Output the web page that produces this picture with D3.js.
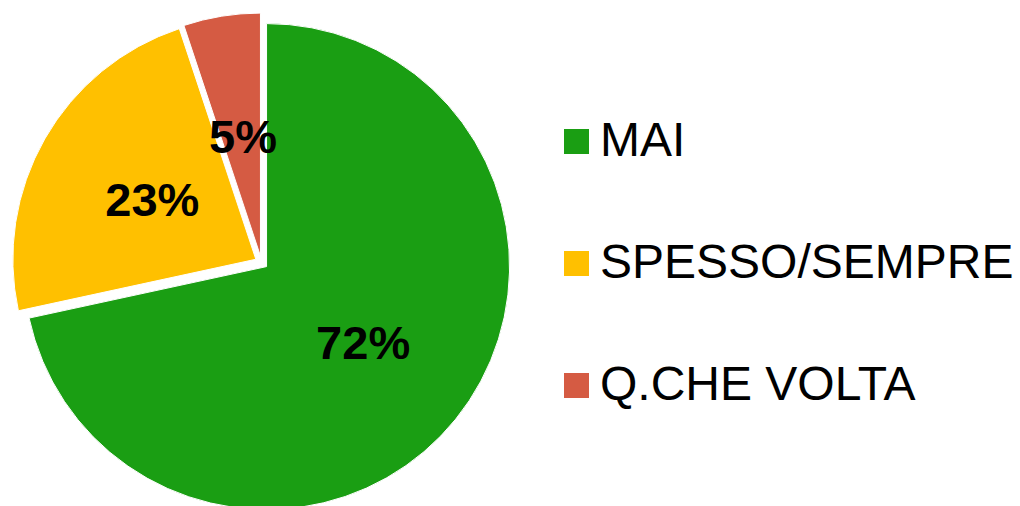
<!DOCTYPE html>
<html>
<head>
<meta charset="utf-8">
<script src="https://d3js.org/d3.v7.min.js"></script>
<style>
  body { margin: 0; background: #fff; }
  text { font-family: "Liberation Sans", Arial, sans-serif; }
</style>
</head>
<body>
<div id="chart"></div>
<script>
// chart data (labels are the rounded shares)
var categories = ["MAI", "SPESSO/SEMPRE", "Q.CHE VOLTA"];
var values = [71.6, 23.3, 5.1];
var labels = ["72%", "23%", "5%"];
var colors = ["#1a9e13", "#ffc000", "#d55b43"];

var width = 1020, height = 506;
var cx = 261.5, cy = 262.5, radius = 243, explode = 6.5;

var svg = d3.select("#chart").append("svg")
    .attr("width", width)
    .attr("height", height);

var pie = d3.pie().sort(null).value(function(d) { return d; });
var arcs = pie(values);

var arc = d3.arc().innerRadius(0).outerRadius(radius);

// each slice pushed out a little along its middle angle
var slices = svg.append("g").attr("transform", "translate(" + cx + "," + cy + ")");

var g = slices.selectAll("g.slice")
    .data(arcs)
    .enter()
    .append("g")
    .attr("class", "slice")
    .attr("transform", function(d) {
        var a = (d.startAngle + d.endAngle) / 2;
        return "translate(" + (Math.sin(a) * explode) + "," + (-Math.cos(a) * explode) + ")";
    });

g.append("path")
    .attr("d", arc)
    .attr("fill", function(d, i) { return colors[i]; })
    .attr("stroke", "#fff")
    .attr("stroke-width", 1);

g.append("text")
    .attr("transform", function(d) {
        var c = arc.centroid(d);
        return "translate(" + (c[0] + 2) + "," + c[1] + ")";
    })
    .attr("dy", "0.35em")
    .attr("text-anchor", "middle")
    .style("font-size", "47px")
    .style("font-weight", "bold")
    .attr("fill", "#000")
    .text(function(d, i) { return labels[i]; });

// legend
var legend = svg.append("g");
var rowY = d3.scalePoint().domain(categories).range([156, 400]);

var item = legend.selectAll("g.item")
    .data(categories)
    .enter()
    .append("g")
    .attr("class", "item")
    .attr("transform", function(d) { return "translate(0," + rowY(d) + ")"; });

item.append("rect")
    .attr("x", 564)
    .attr("y", -27)
    .attr("width", 25)
    .attr("height", 25)
    .attr("fill", function(d, i) { return colors[i]; });

item.append("text")
    .attr("x", 600)
    .attr("y", 0)
    .style("font-size", "48px")
    .attr("fill", "#000")
    .text(function(d) { return d; });
</script>
</body>
</html>
